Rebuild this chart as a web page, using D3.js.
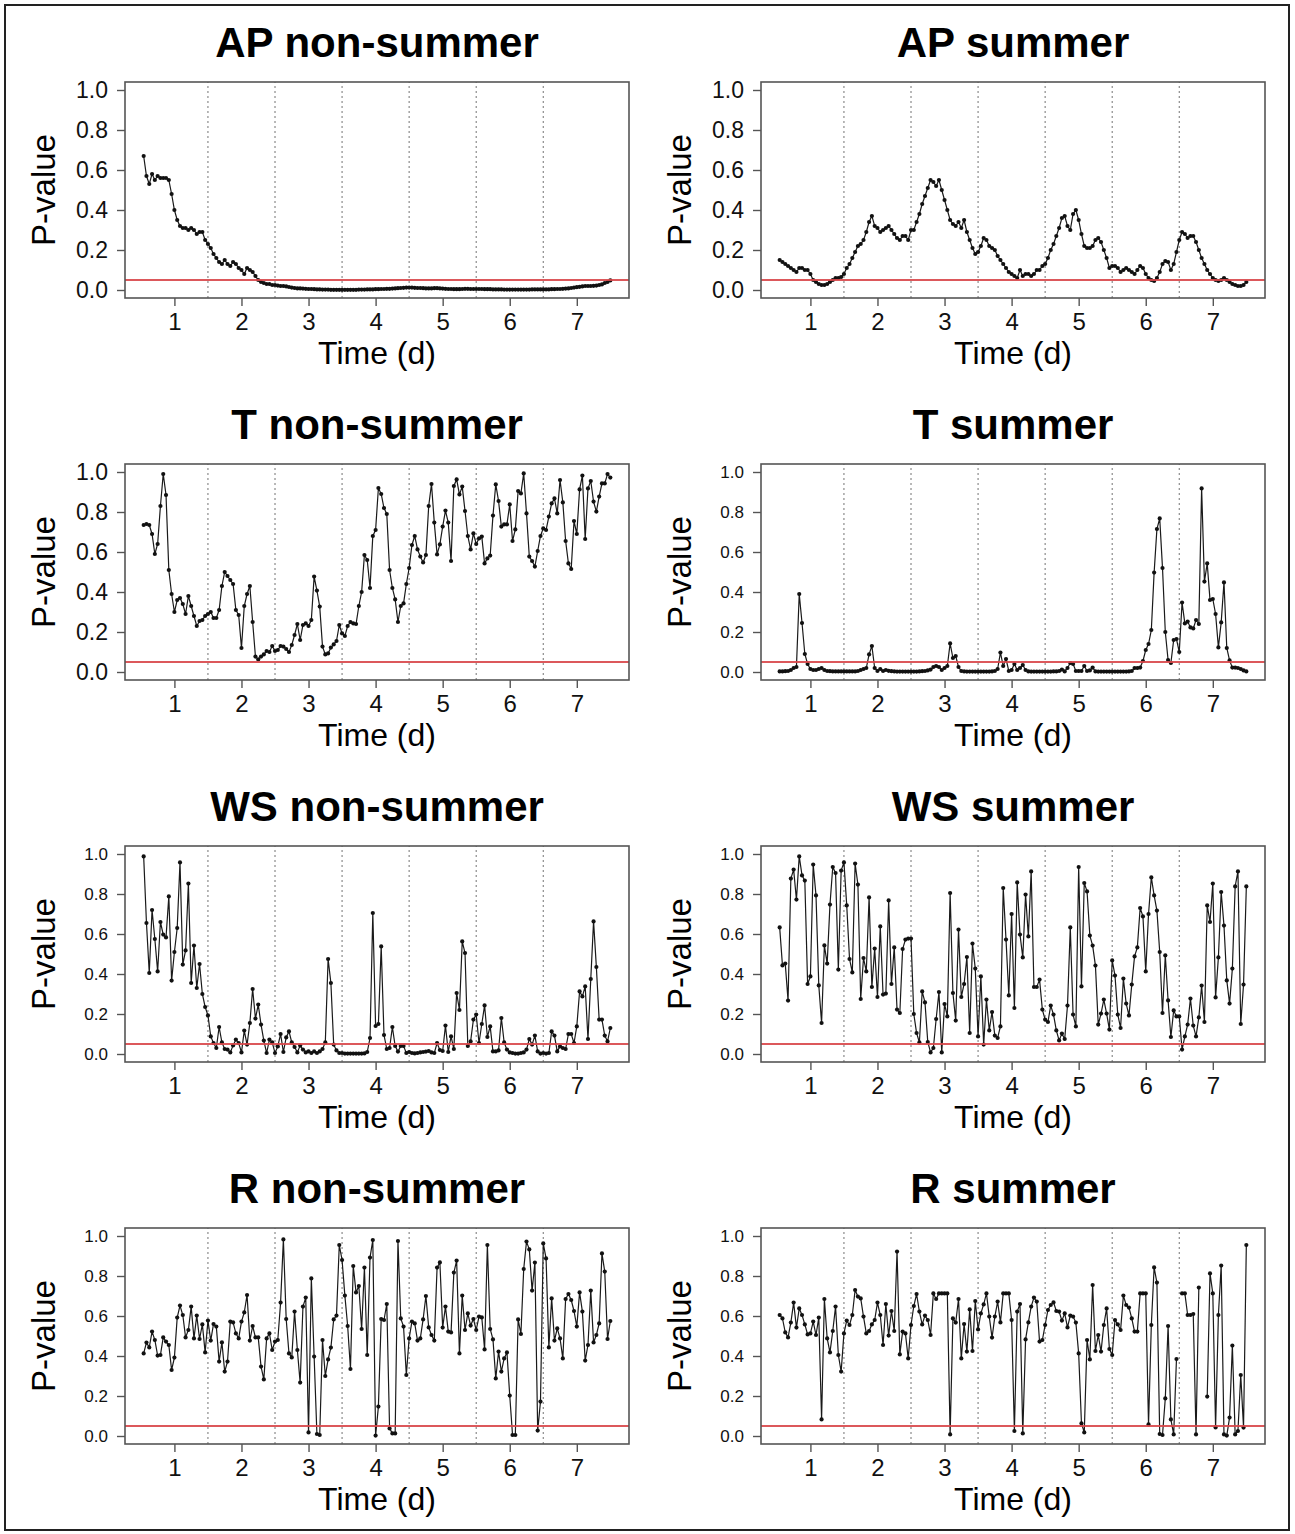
<!DOCTYPE html>
<html>
<head>
<meta charset="utf-8">
<script src="https://cdn.jsdelivr.net/npm/d3@7"></script>
<style>
  body { margin: 0; background: #fff; }
  svg { display: block; font-family: "Liberation Sans", Arial, sans-serif; }
</style>
</head>
<body>
<script>
// hourly windows, 24 per day, from day 0.5 to 7.5
const hours = d3.range(1, 169);
const xTicks = [1, 2, 3, 4, 5, 6, 7];
const yTicks = [0, 0.2, 0.4, 0.6, 0.8, 1.0];
const dayBreaks = [1.5, 2.5, 3.5, 4.5, 5.5, 6.5];
const alpha = 0.05;

const titles = ["AP non-summer", "AP summer", "T non-summer", "T summer",
  "WS non-summer", "WS summer", "R non-summer", "R summer"];

const apNonSummer = [
  0.67,0.57,0.53,0.58,0.55,0.57,0.56,0.56,0.56,0.55,0.48,0.40,0.35,0.32,0.31,0.31,0.30,0.31,0.30,0.28,0.29,0.29,0.25,0.23,
  0.21,0.18,0.16,0.14,0.13,0.15,0.13,0.12,0.14,0.13,0.11,0.10,0.08,0.11,0.10,0.09,0.07,0.05,0.04,0.035,0.03,0.03,0.025,0.025,
  0.022,0.02,0.02,0.018,0.015,0.012,0.01,0.008,0.008,0.007,0.006,0.005,0.005,0.004,0.003,0.003,0.002,0.002,0.002,0.001,0.001,0.001,0.001,0.001,
  0.001,0.001,0.001,0.001,0.001,0.002,0.002,0.002,0.003,0.003,0.003,0.004,0.004,0.005,0.005,0.006,0.006,0.007,0.008,0.009,0.01,0.011,0.012,0.012,
  0.012,0.011,0.01,0.01,0.009,0.008,0.008,0.008,0.009,0.009,0.008,0.007,0.006,0.005,0.005,0.004,0.004,0.004,0.005,0.006,0.006,0.005,0.005,0.005,
  0.005,0.005,0.004,0.004,0.004,0.003,0.003,0.003,0.003,0.002,0.002,0.002,0.002,0.002,0.002,0.002,0.002,0.002,0.002,0.003,0.003,0.003,0.003,0.003,
  0.003,0.003,0.004,0.004,0.005,0.005,0.006,0.007,0.008,0.01,0.012,0.014,0.016,0.018,0.02,0.02,0.02,0.021,0.022,0.025,0.028,0.035,0.04,0.048
];
const apSummer = [
  0.15,0.14,0.13,0.12,0.11,0.10,0.09,0.11,0.11,0.10,0.10,0.08,0.05,0.04,0.03,0.025,0.025,0.03,0.04,0.05,0.06,0.06,0.065,0.08,
  0.11,0.13,0.16,0.19,0.22,0.23,0.25,0.29,0.34,0.37,0.32,0.31,0.29,0.30,0.31,0.32,0.30,0.28,0.26,0.25,0.27,0.27,0.25,0.30,
  0.30,0.34,0.38,0.43,0.47,0.51,0.55,0.54,0.52,0.55,0.50,0.45,0.40,0.35,0.33,0.32,0.34,0.31,0.35,0.29,0.25,0.21,0.18,0.19,
  0.22,0.26,0.25,0.22,0.21,0.20,0.17,0.15,0.13,0.11,0.09,0.08,0.07,0.06,0.10,0.07,0.08,0.08,0.07,0.08,0.10,0.10,0.12,0.13,
  0.16,0.20,0.23,0.27,0.31,0.36,0.37,0.32,0.30,0.38,0.40,0.35,0.28,0.22,0.21,0.21,0.22,0.25,0.26,0.24,0.20,0.16,0.11,0.12,
  0.12,0.11,0.09,0.10,0.11,0.10,0.09,0.08,0.10,0.12,0.11,0.08,0.06,0.05,0.045,0.06,0.09,0.13,0.145,0.14,0.10,0.13,0.19,0.25,
  0.29,0.28,0.26,0.27,0.27,0.24,0.20,0.16,0.13,0.10,0.08,0.06,0.05,0.045,0.05,0.06,0.05,0.04,0.03,0.025,0.02,0.02,0.025,0.04
];
const tNonSummer = [
  0.735,0.74,0.735,0.69,0.59,0.64,0.83,0.99,0.885,0.51,0.39,0.30,0.36,0.37,0.34,0.29,0.38,0.33,0.28,0.23,0.255,0.26,0.28,0.29,
  0.30,0.27,0.27,0.31,0.43,0.50,0.48,0.46,0.44,0.31,0.285,0.12,0.33,0.39,0.43,0.25,0.077,0.063,0.077,0.088,0.105,0.10,0.13,0.105,
  0.11,0.13,0.127,0.115,0.10,0.135,0.185,0.24,0.16,0.235,0.243,0.23,0.26,0.477,0.407,0.327,0.127,0.088,0.093,0.122,0.138,0.155,0.235,0.193,
  0.18,0.23,0.25,0.243,0.24,0.33,0.40,0.585,0.56,0.42,0.68,0.71,0.92,0.89,0.82,0.79,0.51,0.42,0.363,0.25,0.33,0.343,0.44,0.52,
  0.635,0.68,0.613,0.577,0.548,0.585,0.83,0.94,0.747,0.588,0.638,0.727,0.807,0.747,0.555,0.93,0.963,0.888,0.927,0.805,0.68,0.613,0.693,0.64,
  0.668,0.677,0.543,0.568,0.582,0.782,0.938,0.855,0.727,0.738,0.738,0.838,0.655,0.713,0.905,0.893,0.993,0.793,0.577,0.555,0.527,0.605,0.68,0.718,
  0.71,0.777,0.843,0.868,0.793,0.96,0.848,0.655,0.543,0.515,0.755,0.69,0.913,0.982,0.665,0.918,0.955,0.852,0.802,0.877,0.943,0.943,0.99,0.972
];
const tSummer = [
  0.003,0.003,0.004,0.005,0.01,0.02,0.025,0.39,0.245,0.09,0.04,0.015,0.01,0.01,0.015,0.02,0.01,0.005,0.004,0.003,0.003,0.003,0.003,0.003,
  0.003,0.003,0.003,0.003,0.005,0.01,0.015,0.02,0.088,0.13,0.02,0.005,0.015,0.005,0.01,0.006,0.004,0.003,0.002,0.002,0.002,0.002,0.002,0.002,
  0.002,0.002,0.003,0.004,0.005,0.008,0.012,0.025,0.03,0.025,0.01,0.02,0.03,0.143,0.07,0.08,0.025,0.005,0.003,0.002,0.002,0.002,0.002,0.002,
  0.002,0.002,0.002,0.002,0.003,0.005,0.015,0.097,0.03,0.065,0.005,0.01,0.04,0.01,0.02,0.035,0.01,0.003,0.002,0.002,0.002,0.002,0.002,0.002,
  0.002,0.002,0.003,0.003,0.005,0.012,0.003,0.02,0.045,0.04,0.005,0.005,0.005,0.03,0.005,0.008,0.022,0.003,0.002,0.002,0.002,0.002,0.002,0.002,
  0.002,0.002,0.002,0.002,0.002,0.003,0.005,0.02,0.02,0.022,0.055,0.11,0.14,0.21,0.497,0.715,0.768,0.52,0.2,0.06,0.045,0.16,0.165,0.1,
  0.347,0.243,0.252,0.223,0.218,0.26,0.24,0.918,0.452,0.543,0.36,0.365,0.29,0.123,0.248,0.448,0.12,0.058,0.022,0.022,0.02,0.015,0.008,0.003
];
const wsNonSummer = [
  0.988,0.655,0.405,0.72,0.575,0.413,0.66,0.597,0.583,0.788,0.367,0.51,0.63,0.958,0.447,0.518,0.852,0.355,0.542,0.33,0.45,0.30,0.235,0.193,
  0.088,0.055,0.03,0.135,0.058,0.025,0.022,0.008,0.043,0.072,0.055,0.008,0.117,0.047,0.155,0.325,0.177,0.247,0.147,0.067,0.005,0.072,0.058,0.005,
  0.038,0.10,0.01,0.083,0.113,0.058,0.035,0.008,0.042,0.022,0.008,0.013,0.005,0.013,0.005,0.013,0.025,0.058,0.475,0.355,0.047,0.018,0.005,0.005,
  0.002,0.002,0.002,0.002,0.002,0.002,0.002,0.003,0.01,0.08,0.705,0.14,0.15,0.538,0.095,0.025,0.03,0.135,0.04,0.012,0.04,0.04,0.005,0.01,
  0.005,0.003,0.005,0.008,0.01,0.012,0.015,0.008,0.005,0.055,0.02,0.015,0.142,0.01,0.088,0.025,0.305,0.22,0.563,0.505,0.04,0.063,0.172,0.197,
  0.055,0.15,0.243,0.085,0.138,0.013,0.013,0.018,0.18,0.058,0.022,0.008,0.005,0.002,0.002,0.005,0.008,0.022,0.075,0.047,0.092,0.013,0.002,0.005,
  0.002,0.005,0.113,0.092,0.013,0.038,0.03,0.025,0.10,0.10,0.055,0.138,0.313,0.288,0.338,0.075,0.375,0.663,0.435,0.172,0.172,0.092,0.063,0.13
];
const wsSummer = [
  0.633,0.443,0.452,0.267,0.877,0.922,0.772,0.988,0.893,0.867,0.35,0.388,0.947,0.793,0.343,0.155,0.543,0.452,0.747,0.935,0.905,0.422,0.917,0.958,
  0.743,0.475,0.408,0.952,0.847,0.275,0.48,0.413,0.783,0.335,0.527,0.285,0.638,0.297,0.302,0.768,0.35,0.533,0.222,0.205,0.525,0.572,0.577,0.577,
  0.20,0.105,0.058,0.313,0.258,0.06,0.008,0.03,0.175,0.31,0.008,0.25,0.188,0.805,0.305,0.167,0.622,0.285,0.35,0.485,0.105,0.552,0.427,0.088,
  0.388,0.047,0.272,0.118,0.21,0.092,0.08,0.138,0.83,0.572,0.293,0.70,0.23,0.858,0.597,0.483,0.797,0.588,0.913,0.335,0.335,0.372,0.222,0.172,
  0.16,0.242,0.197,0.118,0.068,0.102,0.075,0.242,0.633,0.197,0.138,0.935,0.338,0.855,0.813,0.592,0.542,0.442,0.147,0.202,0.272,0.202,0.122,0.468,
  0.392,0.197,0.13,0.377,0.252,0.193,0.347,0.488,0.533,0.73,0.688,0.413,0.70,0.883,0.793,0.717,0.51,0.205,0.493,0.268,0.085,0.218,0.188,0.188,
  0.022,0.088,0.147,0.277,0.142,0.088,0.183,0.342,0.16,0.743,0.66,0.852,0.283,0.483,0.81,0.642,0.368,0.252,0.427,0.838,0.913,0.15,0.347,0.838
];
const rNonSummer = [
  0.413,0.467,0.443,0.522,0.48,0.402,0.405,0.493,0.472,0.455,0.33,0.392,0.592,0.652,0.605,0.493,0.53,0.647,0.488,0.602,0.485,0.558,0.418,0.577,
  0.477,0.56,0.547,0.372,0.468,0.322,0.372,0.572,0.568,0.513,0.488,0.572,0.618,0.705,0.477,0.55,0.493,0.493,0.347,0.283,0.488,0.513,0.43,0.472,
  0.48,0.667,0.983,0.585,0.413,0.393,0.622,0.43,0.267,0.647,0.692,0.018,0.788,0.397,0.01,0.005,0.48,0.30,0.383,0.442,0.583,0.602,0.955,0.88,
  0.702,0.55,0.335,0.85,0.718,0.75,0.535,0.842,0.405,0.892,0.98,0.002,0.147,0.585,0.58,0.66,0.038,0.013,0.013,0.975,0.588,0.547,0.305,0.488,
  0.572,0.563,0.477,0.488,0.583,0.70,0.543,0.505,0.477,0.842,0.868,0.542,0.647,0.522,0.518,0.817,0.877,0.413,0.702,0.53,0.613,0.552,0.585,0.53,
  0.597,0.593,0.433,0.955,0.535,0.483,0.288,0.422,0.322,0.388,0.418,0.202,0.005,0.005,0.583,0.51,0.835,0.972,0.933,0.727,0.867,0.027,0.172,0.963,
  0.888,0.443,0.688,0.477,0.538,0.488,0.388,0.685,0.71,0.68,0.625,0.547,0.718,0.622,0.377,0.455,0.727,0.468,0.505,0.563,0.913,0.822,0.485,0.575
];
const rSummer = [
  0.605,0.588,0.518,0.493,0.567,0.667,0.542,0.638,0.605,0.558,0.508,0.513,0.572,0.505,0.592,0.083,0.685,0.488,0.418,0.525,0.647,0.405,0.322,0.513,
  0.577,0.555,0.605,0.73,0.697,0.688,0.597,0.513,0.525,0.558,0.58,0.667,0.605,0.455,0.66,0.502,0.625,0.525,0.922,0.408,0.522,0.513,0.388,0.555,
  0.65,0.71,0.622,0.558,0.602,0.58,0.505,0.713,0.685,0.713,0.713,0.713,0.713,0.008,0.588,0.567,0.685,0.388,0.56,0.422,0.633,0.425,0.675,0.533,
  0.613,0.658,0.713,0.597,0.492,0.597,0.672,0.568,0.713,0.713,0.713,0.58,0.025,0.622,0.66,0.013,0.483,0.568,0.647,0.692,0.672,0.472,0.48,0.555,
  0.63,0.655,0.668,0.625,0.622,0.577,0.613,0.543,0.602,0.597,0.567,0.413,0.063,0.018,0.48,0.383,0.755,0.425,0.505,0.422,0.555,0.638,0.435,0.405,
  0.58,0.558,0.53,0.702,0.655,0.642,0.588,0.522,0.522,0.713,0.713,0.713,0.058,0.555,0.843,0.767,0.01,0.005,0.188,0.55,0.083,0.008,0.385,null,
  0.713,0.713,0.605,0.605,0.61,0.008,0.742,null,null,0.197,0.813,0.713,0.043,0.605,0.852,0.008,0.002,0.092,0.452,0.008,0.025,0.305,0.042,0.955
];

const series = [apNonSummer, apSummer, tNonSummer, tSummer, wsNonSummer, wsSummer, rNonSummer, rSummer];

const w = 1295;
const h = 1534;
const colX = [125, 761];        // left edge of plot box per column
const rowY0 = [290, 672, 1054, 1436]; // pixel of P = 0 per row
const plotW = 504;
const font = '"Liberation Sans", Arial, sans-serif';

const svg = d3.select("body").append("svg").attr("width", w).attr("height", h);

// outer frame
svg.append("rect")
  .attr("x", 5).attr("y", 5)
  .attr("width", 1284).attr("height", 1525)
  .attr("fill", "none").attr("stroke", "#222").attr("stroke-width", 2);

series.forEach((values, k) => {
  const col = k % 2;
  const row = Math.floor(k / 2);
  const x0 = colX[col];
  const y0 = rowY0[row];
  const bigY = row === 0 || k === 2;

  const xScale = d3.scaleLinear().domain([0.2633, 7.7783]).range([x0, x0 + plotW]);
  const yScale = d3.scaleLinear().domain([-0.04, 1.04]).range([y0 + 8, y0 - 208]);
  const g = svg.append("g");

  // title
  g.append("text")
    .attr("x", x0 + plotW / 2).attr("y", y0 - 233)
    .attr("text-anchor", "middle")
    .style("font-size", "42px").style("font-weight", "bold")
    .text(titles[k]);

  // day separators
  g.selectAll("line.day").data(dayBreaks).enter().append("line")
    .attr("class", "day")
    .attr("x1", (d) => xScale(d)).attr("x2", (d) => xScale(d))
    .attr("y1", yScale(-0.04)).attr("y2", yScale(1.04))
    .attr("stroke", "#808080").attr("stroke-width", 1.1)
    .attr("stroke-dasharray", "2,3");

  // series
  const pts = hours.map((hr, i) => ({ t: 0.5 + hr / 24, p: values[i] }));
  const line = d3.line()
    .defined((d) => d.p != null)
    .x((d) => xScale(d.t))
    .y((d) => yScale(d.p));
  g.append("path")
    .datum(pts)
    .attr("d", line)
    .attr("fill", "none").attr("stroke", "#1a1a1a").attr("stroke-width", 1.2);
  g.selectAll("circle").data(pts.filter((d) => d.p != null)).enter().append("circle")
    .attr("cx", (d) => xScale(d.t)).attr("cy", (d) => yScale(d.p))
    .attr("r", 2.1).attr("fill", "#111");

  // significance level
  g.append("line")
    .attr("x1", xScale(0.2633)).attr("x2", xScale(7.7783))
    .attr("y1", yScale(alpha)).attr("y2", yScale(alpha))
    .attr("stroke", "#d9474a").attr("stroke-width", 2).attr("opacity", 0.9);

  // box
  g.append("rect")
    .attr("x", x0).attr("y", yScale(1.04))
    .attr("width", plotW).attr("height", yScale(-0.04) - yScale(1.04))
    .attr("fill", "none").attr("stroke", "#555").attr("stroke-width", 1.6);

  // axes
  const yAxis = d3.axisLeft(yScale).tickValues(yTicks)
    .tickFormat(d3.format(".1f")).tickSize(8).tickPadding(9);
  const yg = g.append("g").attr("transform", "translate(" + x0 + ",0)").call(yAxis);
  yg.select(".domain").remove();
  yg.selectAll("line").attr("stroke", "#555").attr("stroke-width", 1.4);
  yg.selectAll("text").style("font-family", font)
    .style("font-size", bigY ? "23px" : "17px").attr("fill", "#111");

  const xAxis = d3.axisBottom(xScale).tickValues(xTicks)
    .tickFormat(d3.format("d")).tickSize(8).tickPadding(7);
  const xg = g.append("g").attr("transform", "translate(0," + (y0 + 8) + ")").call(xAxis);
  xg.select(".domain").remove();
  xg.selectAll("line").attr("stroke", "#555").attr("stroke-width", 1.4);
  xg.selectAll("text").style("font-family", font).style("font-size", "24px").attr("fill", "#111");

  // axis titles
  g.append("text")
    .attr("x", x0 + plotW / 2).attr("y", y0 + 74)
    .attr("text-anchor", "middle")
    .style("font-size", "32px")
    .text("Time (d)");
  g.append("text")
    .attr("transform", "translate(" + (x0 - 70) + "," + (y0 - 100) + ") rotate(-90)")
    .attr("text-anchor", "middle")
    .style("font-size", "33px")
    .text("P-value");
});
</script>
</body>
</html>
